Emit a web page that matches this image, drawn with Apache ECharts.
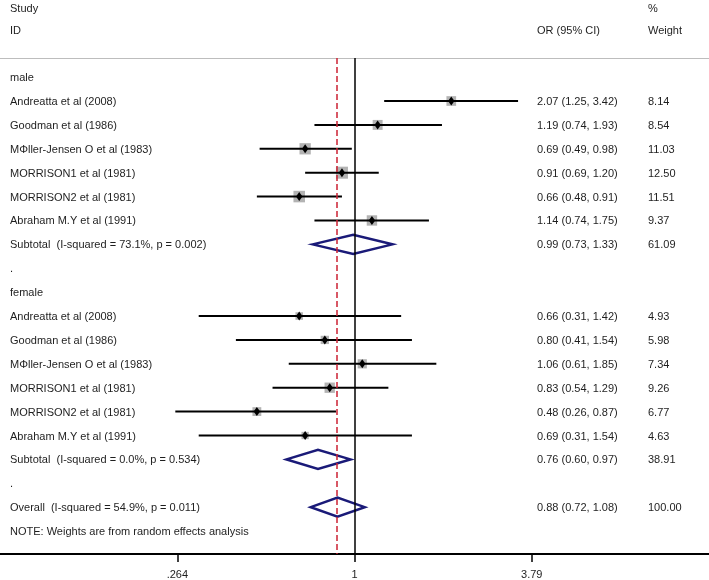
<!DOCTYPE html>
<html>
<head>
<meta charset="utf-8">
<script src="https://cdn.jsdelivr.net/npm/echarts@6/dist/echarts.min.js"></script>
<style>
  html, body { margin: 0; padding: 0; background: #fff; }
  #forest { width: 709px; height: 580px; }
</style>
</head>
<body>
<div id="forest"></div>
<script>
// 数据：各研究的 OR 及 95% CI、权重
var studies = ['Andreatta et al (2008)', 'Goodman et al (1986)', 'MΦller-Jensen O et al (1983)',
  'MORRISON1 et al (1981)', 'MORRISON2 et al (1981)', 'Abraham M.Y et al (1991)'];

var maleOR = [2.07, 1.19, 0.69, 0.91, 0.66, 1.14];
var maleLow = [1.25, 0.74, 0.49, 0.69, 0.48, 0.74];
var maleHigh = [3.42, 1.93, 0.98, 1.20, 0.91, 1.75];
var maleWeight = [8.14, 8.54, 11.03, 12.50, 11.51, 9.37];

var femaleOR = [0.66, 0.80, 1.06, 0.83, 0.48, 0.69];
var femaleLow = [0.31, 0.41, 0.61, 0.54, 0.26, 0.31];
var femaleHigh = [1.42, 1.54, 1.85, 1.29, 0.87, 1.54];
var femaleWeight = [4.93, 5.98, 7.34, 9.26, 6.77, 4.63];

// 合并结果：男性亚组、女性亚组、总体
var pooledLabels = ['Subtotal  (I-squared = 73.1%, p = 0.002)', 'Subtotal  (I-squared = 0.0%, p = 0.534)',
  'Overall  (I-squared = 54.9%, p = 0.011)'];
var pooledOR = [0.99, 0.76, 0.88];
var pooledLow = [0.73, 0.60, 0.72];
var pooledHigh = [1.33, 0.97, 1.08];
var pooledWeight = [61.09, 38.91, 100.00];

var tickValues = [0.264, 1, 3.79];
var tickLabels = ['.264', '1', '3.79'];

// 组装行（行号即 y 轴值）
var rows = [];
function addRow(r) { r.row = rows.length; rows.push(r); }
addRow({ kind: 'text', label: 'male' });
studies.forEach(function (s, i) {
  addRow({ kind: 'study', label: s, or: maleOR[i], lo: maleLow[i], hi: maleHigh[i], w: maleWeight[i] });
});
addRow({ kind: 'pooled', label: pooledLabels[0], or: pooledOR[0], lo: pooledLow[0], hi: pooledHigh[0], w: pooledWeight[0] });
addRow({ kind: 'text', label: '.' });
addRow({ kind: 'text', label: 'female' });
studies.forEach(function (s, i) {
  addRow({ kind: 'study', label: s, or: femaleOR[i], lo: femaleLow[i], hi: femaleHigh[i], w: femaleWeight[i] });
});
addRow({ kind: 'pooled', label: pooledLabels[1], or: pooledOR[1], lo: pooledLow[1], hi: pooledHigh[1], w: pooledWeight[1] });
addRow({ kind: 'text', label: '.' });
addRow({ kind: 'pooled', label: pooledLabels[2], or: pooledOR[2], lo: pooledLow[2], hi: pooledHigh[2], w: pooledWeight[2] });
addRow({ kind: 'text', label: 'NOTE: Weights are from random effects analysis' });

var FONT = '11px "Liberation Sans", Arial, sans-serif';
var TXT = '#1e1e1e';
var NAVY = '#1a1a78';

var studyRows = rows.filter(function (r) { return r.kind === 'study'; });
var pooledRows = rows.filter(function (r) { return r.kind === 'pooled'; });

var myChart = echarts.init(document.getElementById('forest'));

var option = {
  animation: false,
  backgroundColor: '#fff',
  grid: { left: 0, right: 0, top: 58, bottom: 26 },
  xAxis: [{
    type: 'value',
    min: -2.665,
    max: 2.665,
    position: 'bottom',
    splitLine: { show: false },
    axisLine: { show: true, onZero: false, lineStyle: { color: '#000', width: 2 } },
    axisTick: { show: true, length: 8, lineStyle: { color: '#000', width: 1.5 },
      customValues: tickValues.map(Math.log) },
    axisLabel: {
      customValues: tickValues.map(Math.log),
      margin: 15,
      color: TXT,
      fontSize: 11,
      fontFamily: '"Liberation Sans", Arial, sans-serif',
      formatter: function (v) {
        for (var i = 0; i < tickValues.length; i++) {
          if (Math.abs(Math.log(tickValues[i]) - v) < 1e-6) return tickLabels[i];
        }
        return '';
      }
    }
  }, {
    // 顶部分隔线
    type: 'value',
    min: -2.665,
    max: 2.665,
    position: 'top',
    splitLine: { show: false },
    axisLine: { show: true, onZero: false, lineStyle: { color: '#bdbdbd', width: 1 } },
    axisTick: { show: false },
    axisLabel: { show: false }
  }],
  yAxis: {
    type: 'value',
    inverse: true,
    min: -0.8,
    max: 19.96,
    show: false
  },
  graphic: [
    { type: 'text', left: 10, top: 3, style: { text: 'Study', font: FONT, fill: TXT } },
    { type: 'text', left: 10, top: 25, style: { text: 'ID', font: FONT, fill: TXT } },
    { type: 'text', left: 537, top: 25, style: { text: 'OR (95% CI)', font: FONT, fill: TXT } },
    { type: 'text', left: 648, top: 3, style: { text: '%', font: FONT, fill: TXT } },
    { type: 'text', left: 648, top: 25, style: { text: 'Weight', font: FONT, fill: TXT } }
  ],
  series: [
    {
      // 各研究：权重方块 + CI 线 + 点估计
      type: 'custom',
      name: 'studies',
      data: studyRows.map(function (r) { return [Math.log(r.or), r.row, Math.log(r.lo), Math.log(r.hi), r.w]; }),
      renderItem: function (params, api) {
        var c = api.coord([api.value(0), api.value(1)]);
        var lo = api.coord([api.value(2), api.value(1)]);
        var hi = api.coord([api.value(3), api.value(1)]);
        var s = 3.4 * Math.sqrt(api.value(4));
        return {
          type: 'group',
          children: [
            { type: 'rect', shape: { x: c[0] - s / 2, y: c[1] - s / 2, width: s, height: s },
              style: { fill: '#b3b3b3' } },
            { type: 'line', shape: { x1: lo[0], y1: c[1], x2: hi[0], y2: c[1] },
              style: { stroke: '#000', lineWidth: 2 } },
            { type: 'polygon', shape: { points: [[c[0], c[1] - 4.5], [c[0] + 3.2, c[1]], [c[0], c[1] + 4.5], [c[0] - 3.2, c[1]]] },
              style: { fill: '#000' } }
          ]
        };
      },
      markLine: {
        silent: true,
        symbol: 'none',
        label: { show: false },
        data: [
          { xAxis: 0, lineStyle: { color: '#000', width: 1.5, type: 'solid' } },
          { xAxis: Math.log(pooledOR[2]), lineStyle: { color: '#cc2233', width: 1.5, type: [6, 3] } }
        ]
      },
      z: 3
    },
    {
      // 合并效应菱形
      type: 'custom',
      name: 'pooled',
      data: pooledRows.map(function (r) { return [Math.log(r.or), r.row, Math.log(r.lo), Math.log(r.hi)]; }),
      renderItem: function (params, api) {
        var c = api.coord([api.value(0), api.value(1)]);
        var lo = api.coord([api.value(2), api.value(1)]);
        var hi = api.coord([api.value(3), api.value(1)]);
        var h = 9.5;
        return {
          type: 'polygon',
          shape: { points: [[lo[0], c[1]], [c[0], c[1] - h], [hi[0], c[1]], [c[0], c[1] + h]] },
          style: { fill: 'none', stroke: NAVY, lineWidth: 2.5, lineJoin: 'miter' }
        };
      },
      z: 4
    },
    {
      // 文字列：研究名、OR (95% CI)、权重
      type: 'custom',
      name: 'labels',
      data: rows.map(function (r) { return [0, r.row]; }),
      renderItem: function (params, api) {
        var y = api.coord([0, api.value(1)])[1] + 1;
        var r = rows[params.dataIndex];
        var children = [
          { type: 'text', style: { x: 10, y: y, text: r.label, font: FONT, fill: TXT, verticalAlign: 'middle' } }
        ];
        if (r.kind === 'study' || r.kind === 'pooled') {
          children.push({ type: 'text', style: { x: 537, y: y,
            text: r.or.toFixed(2) + ' (' + r.lo.toFixed(2) + ', ' + r.hi.toFixed(2) + ')',
            font: FONT, fill: TXT, verticalAlign: 'middle' } });
          children.push({ type: 'text', style: { x: 648, y: y, text: r.w.toFixed(2),
            font: FONT, fill: TXT, verticalAlign: 'middle' } });
        }
        return { type: 'group', children: children };
      },
      z: 5
    }
  ]
};

myChart.setOption(option);
</script>
</body>
</html>
